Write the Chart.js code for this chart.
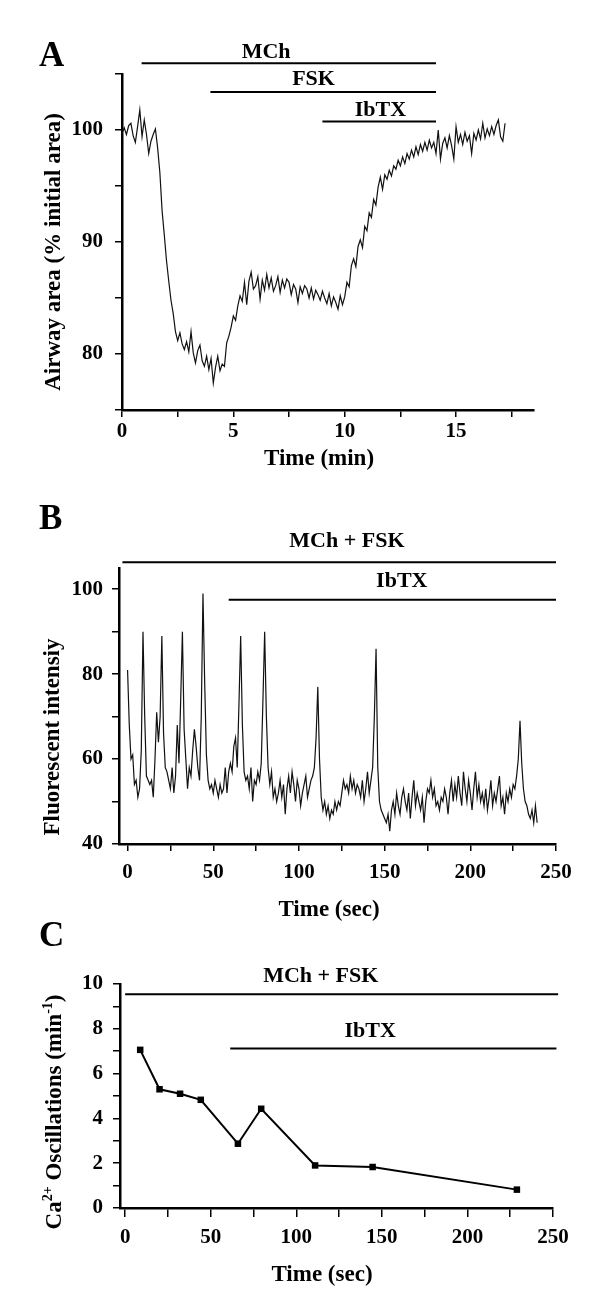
<!DOCTYPE html>
<html>
<head>
<meta charset="utf-8">
<title>Airway area, Ca2+ oscillations</title>
<script src="https://cdn.jsdelivr.net/npm/chart.js"></script>
<style>
  body { margin: 0; background: #fff; }
  #wrap { position: relative; width: 600px; height: 1313px; }
  canvas { position: absolute; left: 0; }
</style>
</head>
<body>
<div id="wrap">
  <canvas id="chartA" width="600" height="480" style="top:0px"></canvas>
  <canvas id="chartB" width="600" height="446" style="top:480px"></canvas>
  <canvas id="chartC" width="600" height="408" style="top:905px"></canvas>
</div>

<script>
// ---- Panel A: airway area (% initial), one sample every 0.1 min from 0 min
const areaStart = 0;
const areaStep = 0.1;
const areaPct = [
  99.7,100.2,99.6,100.4,100.6,99.5,98.9,100.3,101.8,99.4,
  100.9,99.6,97.9,99.0,99.6,100.1,98.4,96.2,92.8,90.6,
  88.3,86.5,84.8,83.6,82.0,81.2,81.9,80.9,80.4,81.1,
  80.2,82.0,80.1,79.2,80.3,80.8,79.4,78.9,79.8,78.6,
  79.6,77.4,78.8,79.8,78.5,79.1,78.9,81.0,81.6,82.4,
  83.4,83.0,84.3,85.2,84.7,86.4,84.4,86.5,87.3,85.8,
  86.1,86.9,84.9,86.6,85.7,87.1,85.9,86.8,85.6,86.1,
  86.9,85.5,86.6,85.9,86.7,86.4,85.3,86.2,85.8,84.6,
  86.0,85.4,86.1,85.8,85.0,85.9,84.9,85.7,85.3,84.8,
  85.6,85.0,84.5,85.4,84.3,85.1,84.6,84.0,85.2,84.4,
  85.1,86.4,86.0,87.9,88.5,87.8,89.6,90.2,89.5,91.4,
  91.0,92.6,92.2,93.8,93.3,94.9,95.8,94.7,96.0,95.6,
  96.4,95.9,96.8,96.5,97.3,96.8,97.6,97.0,97.9,97.4,
  98.2,97.6,98.5,97.8,98.7,98.1,98.9,98.2,99.1,98.4,
  98.9,97.9,100.0,97.4,98.8,99.3,98.4,99.5,98.6,97.4,
  100.3,98.9,99.6,98.7,99.8,99.0,99.5,97.9,99.7,99.1,
  100.0,99.2,100.6,99.3,100.1,99.5,100.3,99.6,100.4,100.9,
  99.4,99.0,100.6
];
const drugsA = ['MCh', 'FSK', 'IbTX'];
const drugsAFrom = [0.88, 3.97, 9.0];   // min
const drugsATo = [14.1, 14.1, 14.1];
const ticksAx = [0, 2.5, 5, 7.5, 10, 12.5, 15, 17.5];
const labelsAx = [0, 5, 10, 15];
const ticksAy = [75, 80, 85, 90, 95, 100, 105];
const labelsAy = [80, 90, 100];

// ---- Panel B: fluorescence, one sample per second from 0 s
const fluoStart = 0;
const fluoStep = 1;
const fluo = [
  81,68,60,61,54,55,51,53,62,90,
  70,56,55,54,55,51,60,71,64,70,
  89,66,58,57,55,53,58,52,56,68,
  59,74,90,67,60,53,58,56,62,67,
  63,58,55,70,99,78,61,55,53,54,
  52,55,53,51,54,52,53,58,52,57,
  59,57,63,65,58,73,89,68,57,55,
  56,53,58,50,55,54,57,55,59,74,
  90,70,58,54,57,51,53,50,52,55,
  51,54,47,53,56,52,57,54,50,55,
  53,49,52,54,56,51,53,55,56,58,
  65,77,60,51,48,50,47,49,46,48,
  47,50,48,50,49,52,55,53,54,52,
  56,53,55,52,54,53,51,55,50,53,
  57,52,55,58,70,86,58,50,48,47,
  46,45,47,43,48,50,47,52,49,47,
  51,53,50,48,52,46,51,55,49,52,
  50,48,51,45,50,53,52,55,51,53,
  49,50,48,51,50,53,51,47,52,55,
  50,54,51,56,52,49,57,53,50,55,
  52,48,53,57,51,54,50,52,49,53,
  48,51,55,49,52,50,53,56,49,51,
  47,52,50,53,51,54,53,56,60,69,
  59,53,50,49,47,46,48,45,49,45
];
const drugsB = ['MCh + FSK', 'IbTX'];
const drugsBFrom = [-3, 59];            // s
const drugsBTo = [250, 250];
const ticksBx = [0, 25, 50, 75, 100, 125, 150, 175, 200, 225, 250];
const labelsBx = [0, 50, 100, 150, 200, 250];
const ticksBy = [40, 50, 60, 70, 80, 90, 100];
const labelsBy = [40, 60, 80, 100];

// ---- Panel C: oscillation frequency
const oscTime = [8.8, 20.1, 32.1, 44.2, 65.9, 79.5, 111, 144.6, 228.9];
const oscRate = [7.06, 5.30, 5.10, 4.83, 2.87, 4.43, 1.90, 1.83, 0.82];
const drugsC = ['MCh + FSK', 'IbTX'];
const drugsCFrom = [0, 61.4];
const drugsCTo = [253, 252];
const ticksCx = [0, 25, 50, 75, 100, 125, 150, 175, 200, 225, 250];
const labelsCx = [0, 50, 100, 150, 200, 250];
const ticksCy = [0, 1, 2, 3, 4, 5, 6, 7, 8, 9, 10];
const labelsCy = [0, 2, 4, 6, 8, 10];

const FONT = '"Liberation Serif", "Times New Roman", serif';
Chart.defaults.font.family = FONT;
Chart.defaults.font.weight = 'bold';
Chart.defaults.color = '#000';

// draws a rotated title made of runs (sup runs are raised and smaller)
function rotatedTitle(ctx, runs, cx, cy) {
  const fontFor = r => 'bold ' + (r.sup ? 14 : 23) + 'px ' + FONT;
  let total = 0;
  runs.forEach(r => { ctx.font = fontFor(r); total += ctx.measureText(r.t).width; });
  ctx.save();
  ctx.translate(cx, cy);
  ctx.rotate(-Math.PI / 2);
  ctx.textAlign = 'left';
  ctx.textBaseline = 'middle';
  let x = -total / 2;
  runs.forEach(r => {
    ctx.font = fontFor(r);
    ctx.fillText(r.t, x, r.sup ? -7 : 0);
    x += ctx.measureText(r.t).width;
  });
  ctx.restore();
}

const panelText = {
  id: 'panelText',
  afterDraw(chart, args, o) {
    const ctx = chart.ctx, xs = chart.scales.x, ys = chart.scales.y;
    ctx.save();
    ctx.fillStyle = '#000';
    ctx.font = 'bold 35px ' + FONT;
    ctx.textAlign = 'left';
    ctx.textBaseline = 'alphabetic';
    ctx.fillText(o.letter, o.letterAt[0], o.letterAt[1]);
    // drug names over their bars
    ctx.font = 'bold 22px ' + FONT;
    ctx.textAlign = 'center';
    ctx.textBaseline = 'middle';
    o.notes.forEach(n => ctx.fillText(n.text, xs.getPixelForValue(n.x), ys.getPixelForValue(n.y)));
    // axis titles
    ctx.font = 'bold 23px ' + FONT;
    ctx.fillText(o.xTitle, o.xTitleAt[0], o.xTitleAt[1]);
    rotatedTitle(ctx, o.yTitle, o.yTitleAt[0], o.yTitleAt[1]);
    ctx.restore();
  }
};

function axis(a) {
  return {
    type: 'linear',
    min: a.min,
    max: a.max,
    afterBuildTicks: s => { s.ticks = a.ticks.map(v => ({ value: v })); },
    afterFit: s => { if (s.isHorizontal()) s.height = a.size; else s.width = a.size; },
    border: { display: true, color: '#000', width: 2.5 },
    grid: { drawOnChartArea: false, drawTicks: true, tickLength: a.tickLen, color: '#000', lineWidth: 1.5 },
    ticks: {
      autoSkip: false, maxRotation: 0, minRotation: 0, padding: a.pad, color: '#000',
      font: { size: 21, weight: 'bold', family: FONT },
      callback: v => a.labels.includes(v) ? String(v) : ''
    }
  };
}

const trace = (t0, dt, vals) => ({
  data: vals.map((v, i) => ({ x: t0 + i * dt, y: v })),
  borderColor: '#111', borderWidth: 1.2, pointRadius: 0
});
const drugBar = (from, to, level) => ({
  data: [{ x: from, y: level }, { x: to, y: level }],
  borderColor: '#000', borderWidth: 2, pointRadius: 0, clip: false
});

function makeChart(id, c) {
  return new Chart(document.getElementById(id), {
    type: 'line',
    data: { datasets: c.datasets },
    options: {
      responsive: false,
      animation: false,
      devicePixelRatio: 1,
      events: [],
      layout: { padding: c.padding },
      plugins: { legend: { display: false }, tooltip: { enabled: false }, panelText: c.text },
      scales: { x: axis(c.x), y: axis(c.y) }
    },
    plugins: [panelText]
  });
}

// A
const levelsA = [105.95, 103.4, 100.77];
makeChart('chartA', {
  datasets: [trace(areaStart, areaStep, areaPct)]
    .concat(drugsA.map((d, i) => drugBar(drugsAFrom[i], drugsATo[i], levelsA[i]))),
  padding: { left: 0, right: 66, top: 74, bottom: 0 },
  x: { min: 0, max: 18.5, ticks: ticksAx, labels: labelsAx, size: 70, tickLen: 7, pad: 2 },
  y: { min: 75, max: 105, ticks: ticksAy, labels: labelsAy, size: 122, tickLen: 7, pad: 12 },
  text: {
    letter: 'A', letterAt: [39, 66],
    notes: [
      { text: drugsA[0], x: 6.47, y: 106.9 },
      { text: drugsA[1], x: 8.6, y: 104.5 },
      { text: drugsA[2], x: 11.6, y: 101.8 }
    ],
    xTitle: 'Time (min)', xTitleAt: [319, 459],
    yTitle: [{ t: 'Airway area (% initial area)' }], yTitleAt: [54, 252]
  }
});

// B
const levelsB = [106.35, 97.55];
makeChart('chartB', {
  datasets: [trace(fluoStart, fluoStep, fluo)]
    .concat(drugsB.map((d, i) => drugBar(drugsBFrom[i], drugsBTo[i], levelsB[i]))),
  padding: { left: 0, right: 44, top: 88, bottom: 0 },
  x: { min: -5, max: 250, ticks: ticksBx, labels: labelsBx, size: 82, tickLen: 7, pad: 9 },
  y: { min: 40, max: 105, ticks: ticksBy, labels: labelsBy, size: 119, tickLen: 7, pad: 9 },
  text: {
    letter: 'B', letterAt: [39, 49],
    notes: [
      { text: drugsB[0], x: 128, y: 111.2 },
      { text: drugsB[1], x: 160, y: 101.8 }
    ],
    xTitle: 'Time (sec)', xTitleAt: [329, 430],
    yTitle: [{ t: 'Fluorescent intensiy' }], yTitleAt: [53, 257]
  }
});

// C
const levelsC = [9.54, 7.12];
makeChart('chartC', {
  datasets: [{
    data: oscTime.map((t, i) => ({ x: t, y: oscRate[i] })),
    borderColor: '#000', borderWidth: 2,
    pointStyle: 'rect', pointRadius: 4.6,
    pointBackgroundColor: '#000', pointBorderColor: '#000', pointBorderWidth: 0
  }].concat(drugsC.map((d, i) => drugBar(drugsCFrom[i], drugsCTo[i], levelsC[i]))),
  padding: { left: 0, right: 47, top: 79, bottom: 0 },
  x: { min: -3, max: 250, ticks: ticksCx, labels: labelsCx, size: 105, tickLen: 9, pad: 8 },
  y: { min: 0, max: 10, ticks: ticksCy, labels: labelsCy, size: 120, tickLen: 7, pad: 10 },
  text: {
    letter: 'C', letterAt: [39, 41],
    notes: [
      { text: drugsC[0], x: 114.3, y: 10.36 },
      { text: drugsC[1], x: 143.2, y: 7.87 }
    ],
    xTitle: 'Time (sec)', xTitleAt: [322, 370],
    yTitle: [
      { t: 'Ca' }, { t: '2+', sup: true },
      { t: ' Oscillations (min' }, { t: '-1', sup: true }, { t: ')' }
    ],
    yTitleAt: [55, 207]
  }
});
</script>
</body>
</html>
